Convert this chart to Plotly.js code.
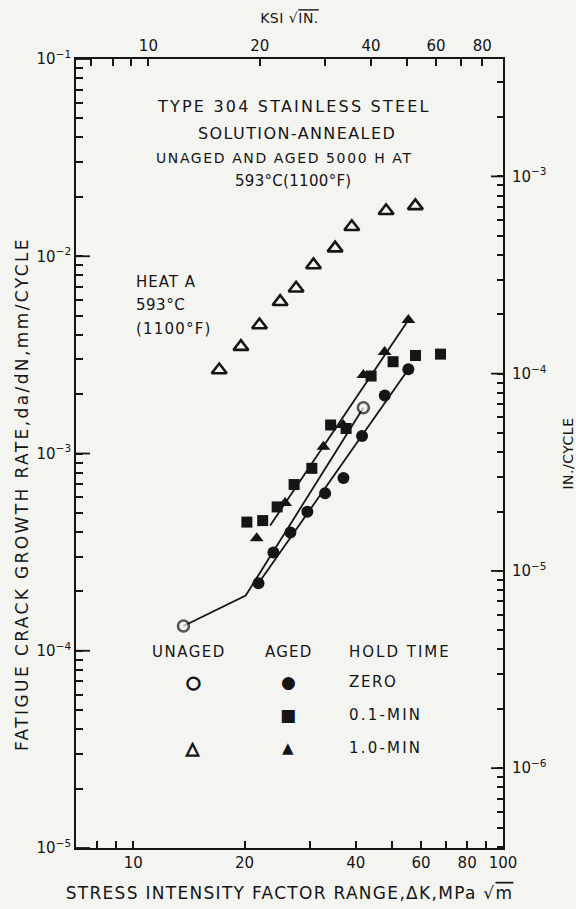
<!DOCTYPE html>
<html><head><meta charset="utf-8">
<script src="https://cdn.plot.ly/plotly-3.0.1.min.js"></script>
<style>html,body{margin:0;padding:0;background:#f4f4f1;} #plot{width:576px;height:909px;}</style>
</head><body><div id="plot"></div>
<script>
// ---- data (ΔK in MPa√m, da/dN in mm/cycle) ----
// Unaged, 1.0-min hold time (open triangles)
const unaged1MinK    = [17.08, 19.55, 21.95, 24.96, 27.57, 30.72, 35.15, 39.00, 48.29, 57.94];
const unaged1MinRate = [2.65e-3, 3.48e-3, 4.48e-3, 5.88e-3, 6.88e-3, 9.03e-3, 1.10e-2, 1.41e-2, 1.70e-2, 1.80e-2];
// Unaged, zero hold time (open circles at the ends of the trend curve)
const unagedZeroK    = [13.67, 20.14, 41.91];
const unagedZeroRate = [1.335e-4, 1.905e-4, 1.707e-3];
// Aged, zero hold time (filled circles)
const agedZeroK    = [21.81, 23.94, 26.61, 29.57, 33.03, 37.02, 41.57, 47.89, 55.47];
const agedZeroRate = [2.20e-4, 3.15e-4, 3.98e-4, 5.07e-4, 6.28e-4, 7.51e-4, 1.227e-3, 1.968e-3, 2.673e-3];
// Aged, 0.1-min hold time (filled squares)
const aged01K    = [20.29, 22.39, 24.50, 27.23, 30.41, 34.19, 37.64, 43.98, 50.43, 58.00, 67.77];
const aged01Rate = [4.49e-4, 4.57e-4, 5.36e-4, 6.96e-4, 8.41e-4, 1.395e-3, 1.339e-3, 2.47e-3, 2.92e-3, 3.14e-3, 3.19e-3];
// Aged, 1.0-min hold time (filled triangles)
const aged1K    = [21.57, 25.75, 32.68, 36.95, 41.91, 47.83, 55.47];
const aged1Rate = [3.72e-4, 5.61e-4, 1.083e-3, 1.395e-3, 2.50e-3, 3.27e-3, 4.75e-3];
// Fitted lines
const agedZeroFitK    = [21.81, 55.47];
const agedZeroFitRate = [2.20e-4, 2.673e-3];
const aged1FitK    = [23.46, 55.47];
const aged1FitRate = [4.32e-4, 4.75e-3];

// ---- axis ticks ----
const bottomTickVals = [8, 9, 10, 20, 30, 40, 50, 60, 70, 80, 90, 100];
const bottomTickText = ['', '', '10', '20', '', '40', '', '60', '', '80', '', '100'];
const topTickVals = [7, 8, 9, 10, 20, 30, 40, 50, 60, 70, 80];      // ksi√in
const topTickText = ['', '', '', '10', '20', '', '40', '', '60', '', '80'];
const leftDecades = [-5, -4, -3, -2, -1];        // mm/cycle exponents
const rightDecades = [-6, -5, -4, -3];           // in./cycle exponents

// unit conversions
const MPA_PER_KSI = 1.0988;   // 1 ksi√in = 1.0988 MPa√m
const IN_PER_MM = 0.03937;

const ink = '#151515';
const bg = '#f4f4f1';
const FONT = 'DejaVu Sans';
const xMin = 7, xMax = 100, yMin = 1e-5, yMax = 1e-1;
const xRange = [Math.log10(xMin), Math.log10(xMax)];
const yRange = [Math.log10(yMin), Math.log10(yMax)];
const x2Range = [Math.log10(xMin / MPA_PER_KSI), Math.log10(xMax / MPA_PER_KSI)];
const y2Range = [Math.log10(yMin * IN_PER_MM), Math.log10(yMax * IN_PER_MM)];

// decade ticks (labelled) plus 2..9 ticks (unlabelled) for a log axis
function logTicks(decades, lo, hi) {
  const vals = [], text = [];
  for (let e = decades[0] - 1; e <= decades[decades.length - 1]; e++) {
    for (let m = 1; m <= 9; m++) {
      const v = m * Math.pow(10, e);
      if (v < lo * 0.999 || v > hi * 1.001) continue;
      vals.push(v);
      text.push(m === 1 ? '10<sup>\u2212' + Math.abs(e) + '</sup>' : '');
    }
  }
  return {vals, text};
}
const leftTicks = logTicks(leftDecades, yMin, yMax);
const rightTicks = logTicks(rightDecades, yMin * IN_PER_MM, yMax * IN_PER_MM);

const traces = [
  {x: unagedZeroK, y: unagedZeroRate, mode: 'lines+markers', line: {color: ink, width: 1.8},
   marker: {symbol: 'circle', size: [11, 0, 11], color: bg, line: {width: 2.6, color: ink}}, showlegend: false},
  {x: agedZeroFitK, y: agedZeroFitRate, mode: 'lines', line: {color: ink, width: 1.8}, showlegend: false},
  {x: aged1FitK, y: aged1FitRate, mode: 'lines', line: {color: ink, width: 1.8}, showlegend: false},
  {x: unaged1MinK, y: unaged1MinRate, mode: 'markers',
   marker: {symbol: 'triangle-up-open', size: 13, color: ink, line: {width: 2.6, color: ink}}, showlegend: false},
  {x: aged01K, y: aged01Rate, mode: 'markers',
   marker: {symbol: 'square', size: 11, color: ink}, showlegend: false},
  {x: aged1K, y: aged1Rate, mode: 'markers',
   marker: {symbol: 'triangle-up', size: 12, color: ink}, showlegend: false},
  {x: agedZeroK, y: agedZeroRate, mode: 'markers',
   marker: {symbol: 'circle', size: 12, color: ink}, showlegend: false},
  {x: [], y: [], xaxis: 'x2', yaxis: 'y2', mode: 'markers', showlegend: false, hoverinfo: 'skip'}
];

function sp(text, ls, extra) {
  const st = (ls ? 'letter-spacing:' + ls + 'px;' : '') + (extra || '');
  return st ? '<span style="' + st + '">' + text + '</span>' : text;
}

function ann(text, px, py, size, ls, opts) {
  // px/py: page pixel position, converted to paper coordinates of the plot area
  return Object.assign({
    text: sp(text, ls), xref: 'paper', yref: 'paper',
    x: (px - 76) / 427, y: (848 - py) / 789,
    showarrow: false, xanchor: 'center', yanchor: 'middle',
    font: {family: FONT, size: size, color: ink}
  }, opts || {});
}

const glyph = (g, px, py, size, stroke) => ann(sp(g, 0, stroke ? 'stroke:' + ink + ';stroke-width:' + stroke + 'px;' : ''), px, py, size, 0);

const annotations = [
  ann('TYPE 304 STAINLESS STEEL', 294, 107, 16, 2.2),
  ann('SOLUTION-ANNEALED', 297, 133, 16, 1.4),
  ann('UNAGED AND AGED 5000 H AT', 284, 158, 14, 1.6),
  ann('593°C(1100°F)', 293, 181, 15, 0.3),
  ann('HEAT A', 134, 282, 15, 1.0, {xanchor: 'left'}),
  ann('593°C', 134, 305, 15, 0.5, {xanchor: 'left'}),
  ann('(1100°F)', 134, 329, 15, 1.2, {xanchor: 'left'}),
  ann('UNAGED', 189, 652, 15, 1.5),
  ann('AGED', 288, 652, 15, 1.2),
  ann('HOLD TIME', 347, 652, 15, 2.0, {xanchor: 'left'}),
  glyph('○', 193, 682, 17, 1.3),
  glyph('●', 288, 682, 17),
  ann('ZERO', 347, 682, 15, 1.6, {xanchor: 'left'}),
  glyph('■', 288, 715, 17),
  ann('0.1-MIN', 347, 715, 15, 2.2, {xanchor: 'left'}),
  glyph('△', 193, 748, 17, 1.3),
  glyph('▲', 288, 748, 15),
  ann('1.0-MIN', 347, 748, 15, 2.2, {xanchor: 'left'}),
  // left axis title, placed where the reference has it
  ann('FATIGUE CRACK GROWTH RATE,da/dN,mm/CYCLE', 22, 494, 17, 2.4, {textangle: -90})
];

// longer decade ticks on the vertical axes (shape positions are axis data values)
const tickShape = (x0, x1, yref, v) => ({type: 'line', xref: 'paper', yref: yref,
  x0: x0, x1: x1, y0: v, y1: v, line: {color: ink, width: 1.8}, layer: 'above'});
const shapes = []
  .concat(leftDecades.map(e => tickShape(0, 14 / 427, 'y', Math.pow(10, e))))
  .concat(rightDecades.map(e => tickShape(1 - 12 / 427, 1, 'y2', Math.pow(10, e))));

const tickfont = {family: FONT, size: 15, color: ink};
const base = {type: 'log', showgrid: false, zeroline: false, tickcolor: ink, tickwidth: 1.6, ticks: 'inside',
              showline: true, linewidth: 1.8, linecolor: ink, tickfont: tickfont, tickmode: 'array'};

const layout = {
  width: 576, height: 909,
  margin: {l: 76, r: 73, t: 59, b: 61},
  paper_bgcolor: bg, plot_bgcolor: bg,
  showlegend: false,
  font: {family: FONT, color: ink},
  xaxis: Object.assign({}, base, {
    range: xRange, side: 'bottom', anchor: 'y',
    tickvals: bottomTickVals, ticktext: bottomTickText, ticklen: 7,
    title: {text: sp('STRESS INTENSITY FACTOR RANGE,ΔK,MPa √<span style="text-decoration:overline">m</span>', 1.3),
            font: {family: FONT, size: 17, color: ink}, standoff: 16}
  }),
  xaxis2: Object.assign({}, base, {
    range: x2Range, side: 'top', anchor: 'y2', overlaying: 'x',
    tickvals: topTickVals, ticktext: topTickText, ticklen: 7,
    title: {text: sp('KSI √<span style="text-decoration:overline">IN.</span>', 0.5), font: {family: FONT, size: 14, color: ink}, standoff: 10}
  }),
  yaxis: Object.assign({}, base, {
    range: yRange, side: 'left', anchor: 'x', ticklen: 7,
    tickvals: leftTicks.vals, ticktext: leftTicks.text
  }),
  yaxis2: Object.assign({}, base, {
    range: y2Range, side: 'right', anchor: 'x2', overlaying: 'y',
    ticklen: 6, ticklabelstandoff: 4,
    tickvals: rightTicks.vals, ticktext: rightTicks.text,
    title: {text: sp('IN./CYCLE', 0.5), font: {family: FONT, size: 14, color: ink}, standoff: 22}
  }),
  shapes: shapes,
  annotations: annotations
};

Plotly.newPlot('plot', traces, layout, {displayModeBar: false});
</script>
</body></html>
